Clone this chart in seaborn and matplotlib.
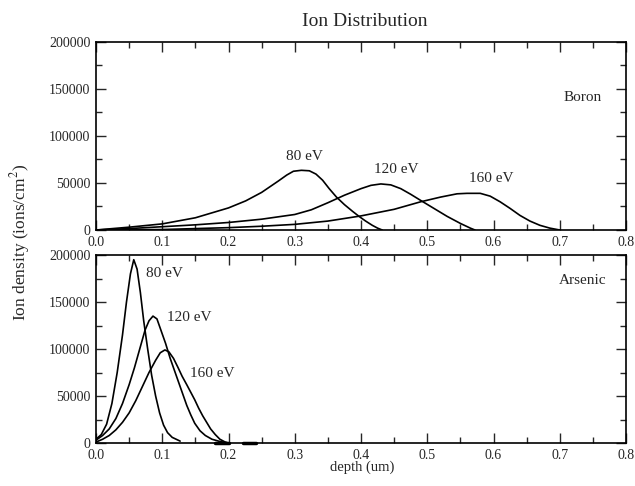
import numpy as np
import pandas as pd
import matplotlib
matplotlib.use("Agg")
import matplotlib.pyplot as plt
from matplotlib.ticker import MultipleLocator, FormatStrFormatter
import seaborn as sns

# Boron profiles (depth um, density ions/cm2)
boron_80_x = [0.0, 0.05, 0.1, 0.15, 0.2, 0.226, 0.25, 0.275, 0.288, 0.298, 0.31, 0.322, 0.332,
              0.342, 0.352, 0.363, 0.375, 0.387, 0.397, 0.407, 0.417, 0.425, 0.432]
boron_80_y = [0, 3000, 6500, 13000, 23500, 31000, 40000, 52000, 58500, 62500, 63500, 63000, 59500,
              53000, 44000, 35000, 27000, 20000, 14500, 9500, 5000, 2000, 0]
boron_120_x = [0.0, 0.05, 0.1, 0.15, 0.2, 0.25, 0.3, 0.325, 0.35, 0.375, 0.4, 0.415, 0.43, 0.445,
               0.46, 0.475, 0.49, 0.51, 0.53, 0.55, 0.565, 0.572]
boron_120_y = [0, 1500, 3500, 5500, 8000, 11500, 16500, 21500, 29000, 37000, 44000, 47500, 49000, 48000,
               44000, 38000, 31500, 23000, 14500, 7000, 2000, 0]
boron_160_x = [0.0, 0.1, 0.15, 0.2, 0.25, 0.3, 0.35, 0.4, 0.45, 0.49, 0.52, 0.545, 0.56, 0.58, 0.595,
               0.61, 0.625, 0.64, 0.655, 0.67, 0.685, 0.70]
boron_160_y = [0, 500, 1500, 2500, 4000, 6000, 9500, 15000, 22000, 30000, 35000, 38500, 39000, 39000, 36000,
               30000, 23000, 15500, 9500, 5000, 2000, 0]

# Arsenic profiles
arsenic_80_x = [0.0, 0.008, 0.016, 0.024, 0.032, 0.04, 0.046, 0.052, 0.057, 0.062, 0.067, 0.072, 0.078,
                0.084, 0.09, 0.096, 0.102, 0.108, 0.115, 0.124, 0.127]
arsenic_80_y = [4000, 9000, 20000, 42000, 75000, 115000, 150000, 180000, 195000, 185000, 160000, 130000, 100000,
                72000, 50000, 32000, 19000, 11000, 6000, 3000, 2000]
arsenic_120_x = [0.0, 0.01, 0.02, 0.03, 0.04, 0.05, 0.058, 0.066, 0.074, 0.08, 0.086, 0.092, 0.098, 0.105,
                 0.112, 0.118, 0.124, 0.13, 0.137, 0.143, 0.149, 0.157, 0.165, 0.175, 0.185, 0.195, 0.2]
arsenic_120_y = [3000, 8000, 15000, 26000, 42000, 62000, 80000, 100000, 120000, 130000, 135000, 132000, 120000, 106000,
                 90000, 78000, 66000, 54000, 40000, 30000, 21000, 13000, 8000, 4000, 2000, 500, 0]
arsenic_160_x = [0.0, 0.01, 0.02, 0.03, 0.04, 0.05, 0.06, 0.07, 0.08, 0.09, 0.097, 0.104, 0.11, 0.117, 0.124,
                 0.13, 0.137, 0.143, 0.149, 0.155, 0.161, 0.167, 0.173, 0.18, 0.187, 0.195, 0.2]
arsenic_160_y = [1000, 4000, 8000, 14000, 22000, 32000, 45000, 60000, 75000, 88000, 96000, 99000, 97000, 90000, 80000,
                 71000, 62000, 54000, 46000, 37000, 29000, 22000, 15000, 9000, 4000, 1000, 0]
# short near-zero tails lying on the baseline
arsenic_tail_x = [[0.18, 0.2], [0.222, 0.242]]
arsenic_tail_y = [[0, 0], [0, 0]]

energies = ["80 eV", "120 eV", "160 eV"]
boron_label_pos = [(0.314, 78000), (0.453, 64000), (0.596, 55000)]
arsenic_label_pos = [(0.1036, 180000), (0.141, 134000), (0.176, 74000)]

sns.set_theme(style="ticks")
plt.rcParams['font.family'] = ['Liberation Serif', 'DejaVu Serif']
plt.rcParams['mathtext.fontset'] = 'stix'

fig = plt.figure(figsize=(6.35, 4.86), dpi=100)
W, H = 635, 486
ax_top = fig.add_axes([96 / W, 1 - 230 / H, 530 / W, 188 / H])
ax_bot = fig.add_axes([96 / W, 1 - 443 / H, 530 / W, 188 / H])

boron = [(boron_80_x, boron_80_y), (boron_120_x, boron_120_y), (boron_160_x, boron_160_y)]
arsenic = [(arsenic_80_x, arsenic_80_y), (arsenic_120_x, arsenic_120_y), (arsenic_160_x, arsenic_160_y)]

for ax, curves, pos, name, name_y in [(ax_top, boron, boron_label_pos, "Boron", 141000),
                                      (ax_bot, arsenic, arsenic_label_pos, "Arsenic", 173000)]:
    for (xs, ys), label, (tx, ty) in zip(curves, energies, pos):
        df = pd.DataFrame({"depth": xs, "density": ys})
        sns.lineplot(data=df, x="depth", y="density", ax=ax, color="black",
                     linewidth=1.2, estimator=None, sort=False)
        ax.text(tx, ty, label, ha="center", va="center", fontsize=11)
    ax.text(0.734, name_y, name, ha="center", va="center", fontsize=11)
    ax.set_xlim(0, 0.8)
    ax.set_ylim(0, 200000)
    ax.xaxis.set_major_locator(MultipleLocator(0.1))
    ax.xaxis.set_minor_locator(MultipleLocator(0.05))
    ax.yaxis.set_major_locator(MultipleLocator(50000))
    ax.yaxis.set_minor_locator(MultipleLocator(25000))
    ax.xaxis.set_major_formatter(FormatStrFormatter("%.1f"))
    ax.tick_params(which="both", direction="in", top=True, right=True, labelsize=10,
                   width=1.0, pad=4)
    ax.tick_params(which="major", length=7)
    ax.tick_params(which="minor", length=4)
    for sp in ax.spines.values():
        sp.set_linewidth(1.2)
        sp.set_color("black")
    ax.set_xlabel("")
    ax.set_ylabel("")

for xs, ys in zip(arsenic_tail_x, arsenic_tail_y):
    ax_bot.plot(xs, ys, color="black", linewidth=2.5, clip_on=False)

fig.text(365 / W, 1 - 22 / H, "Ion Distribution", ha="center", va="center", fontsize=14)
fig.text(362 / W, 1 - 467 / H, "depth (um)", ha="center", va="center", fontsize=10.5)
fig.text(20 / W, 1 - 242 / H, "Ion density (ions/cm$^2$)", rotation=90,
         ha="center", va="center", fontsize=12.5)

fig.savefig("out.png", dpi=100)
